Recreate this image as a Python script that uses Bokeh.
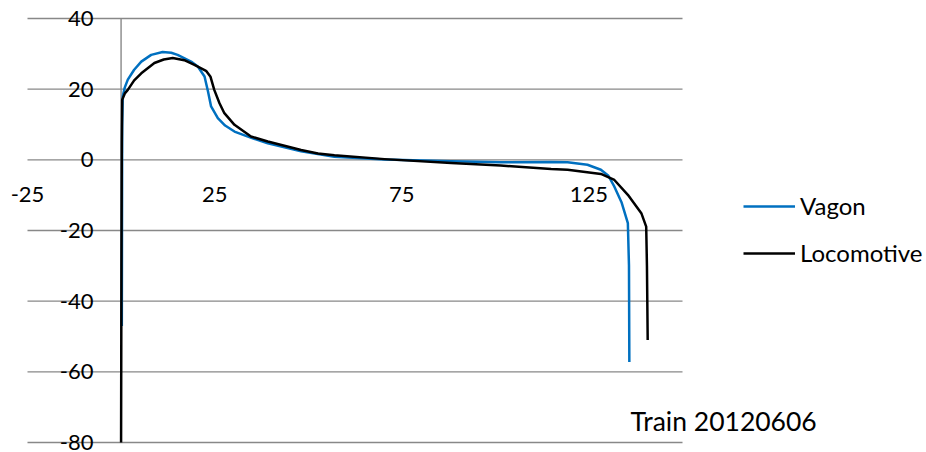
from bokeh.plotting import figure
from bokeh.models import Range1d, Legend, LegendItem, Label, ColumnDataSource
from bokeh.core.properties import value
from bokeh.embed import file_html
from bokeh.resources import INLINE

# ---- data ----
vagon_x = [0.2, 0.3, 0.45, 1.0, 1.8, 3.5, 5.4, 8.05, 11.1, 13.4, 15.1, 18.7, 20.5, 22.3, 23.2,
           24.05, 25.85, 27.8, 30.3, 34.8, 39.2, 48.1, 57.0, 70.4, 88.2, 101.4, 114.9, 119.3,
           124.6, 128.2, 130.2, 131.8, 133.7, 135.4, 135.7, 135.8]
vagon_y = [-47, 10, 18, 20.5, 22.7, 25.5, 27.8, 29.7, 30.5, 30.3, 29.7, 27.8, 26.4, 23.6, 19.5,
           15.1, 11.8, 9.7, 8.0, 6.2, 4.7, 2.4, 0.9, 0.1, -0.4, -0.7, -0.6, -0.7,
           -1.4, -2.8, -4.5, -7.6, -12.0, -17.9, -30.0, -57.2]

loco_x = [0.0, 0.1, 0.2, 0.3, 1.0, 1.8, 3.5, 5.4, 8.9, 11.4, 13.8, 16.9, 19.6, 22.7, 23.9,
          24.9, 26.3, 27.6, 30.3, 34.7, 39.2, 48.1, 52.6, 57.0, 70.4, 88.2, 101.4, 114.9,
          119.3, 128.2, 131.8, 135.4, 139.0, 140.3, 140.5, 140.7]
loco_y = [-80, -30, 5, 17, 18.8, 19.8, 22.5, 24.5, 27.4, 28.4, 28.8, 28.2, 26.9, 25.2, 23.5,
          19.8, 16.0, 13.2, 9.9, 6.6, 5.2, 2.8, 1.8, 1.3, 0.2, -0.9, -1.6, -2.6,
          -2.8, -4.0, -5.7, -9.9, -15.1, -18.9, -30.0, -51.0]

x_ticks = [-25, 25, 75, 125]
y_ticks = [40, 20, 0, -20, -40, -60, -80]
x_tick_labels = ["-25", "25", "75", "125"]
y_tick_labels = ["40", "20", "0", "-20", "-40", "-60", "-80"]
series_names = ["Vagon", "Locomotive"]
caption = "Train 20120606"

# axis limits of the chart area
X_MIN, X_MAX = -25, 150
Y_MIN, Y_MAX = -80, 40

# ---- layout (pixels) ----
W, H = 926, 452
AREA_L, AREA_R, AREA_T, AREA_B = 27, 682, 18, 442
FONT = "Lato"
FS = "22px"
GRID = "#888888"

# the frame covers the whole figure so that texts are not clipped;
# ranges are extended so that the chart area maps onto AREA_*
xs = (X_MAX - X_MIN) / (AREA_R - AREA_L)
ys = (Y_MAX - Y_MIN) / (AREA_B - AREA_T)
x_range = Range1d(X_MIN - AREA_L * xs, X_MAX + (W - AREA_R) * xs)
y_range = Range1d(Y_MIN - (H - AREA_B) * ys, Y_MAX + AREA_T * ys)

p = figure(width=W, height=H, output_backend="svg", toolbar_location=None,
           x_range=x_range, y_range=y_range,
           min_border_left=0, min_border_right=0, min_border_top=0, min_border_bottom=0)
p.xaxis.visible = False
p.yaxis.visible = False
p.xgrid.visible = False
p.ygrid.visible = False
p.outline_line_color = None
p.background_fill_color = "white"
p.border_fill_color = "white"

# horizontal gridlines and vertical axis line
p.segment(x0=[X_MIN] * len(y_ticks), x1=[X_MAX] * len(y_ticks), y0=y_ticks, y1=y_ticks,
          line_color=GRID, line_width=1.4)
p.segment(x0=[0], x1=[0], y0=[Y_MIN], y1=[Y_MAX], line_color=GRID, line_width=1.4)

# y tick labels
ysrc = ColumnDataSource(dict(x=[X_MIN] * len(y_ticks), y=y_ticks, t=y_tick_labels))
p.text(x="x", y="y", text="t", source=ysrc, x_offset=66, text_align="right",
       text_baseline="middle", text_font=value(FONT), text_font_size=FS, text_color="black")
# x tick labels
xsrc = ColumnDataSource(dict(x=x_ticks, y=[0] * len(x_ticks), t=x_tick_labels))
p.text(x="x", y="y", text="t", source=xsrc, y_offset=35, text_align="center",
       text_baseline="middle", text_font=value(FONT), text_font_size=FS, text_color="black")

r1 = p.line(vagon_x, vagon_y, line_color="#0070C0", line_width=2.5, line_join="round")
r2 = p.line(loco_x, loco_y, line_color="black", line_width=2.5, line_join="round")

legend = Legend(items=[LegendItem(label=series_names[0], renderers=[r1]),
                       LegendItem(label=series_names[1], renderers=[r2])],
                location=(743, 185), padding=0, margin=0, spacing=18,
                glyph_width=52, glyph_height=20, label_height=20, label_standoff=5,
                border_line_color=None, background_fill_alpha=0,
                label_text_font=FONT, label_text_font_size="24px", label_text_color="black")
p.add_layout(legend, "center")

p.add_layout(Label(x=630, y=H - 420, x_units="screen", y_units="screen", text=caption,
                   text_font=FONT, text_font_size="26.5px", text_baseline="middle",
                   text_color="black"))

open("out.html", "w").write(file_html(p, INLINE))
